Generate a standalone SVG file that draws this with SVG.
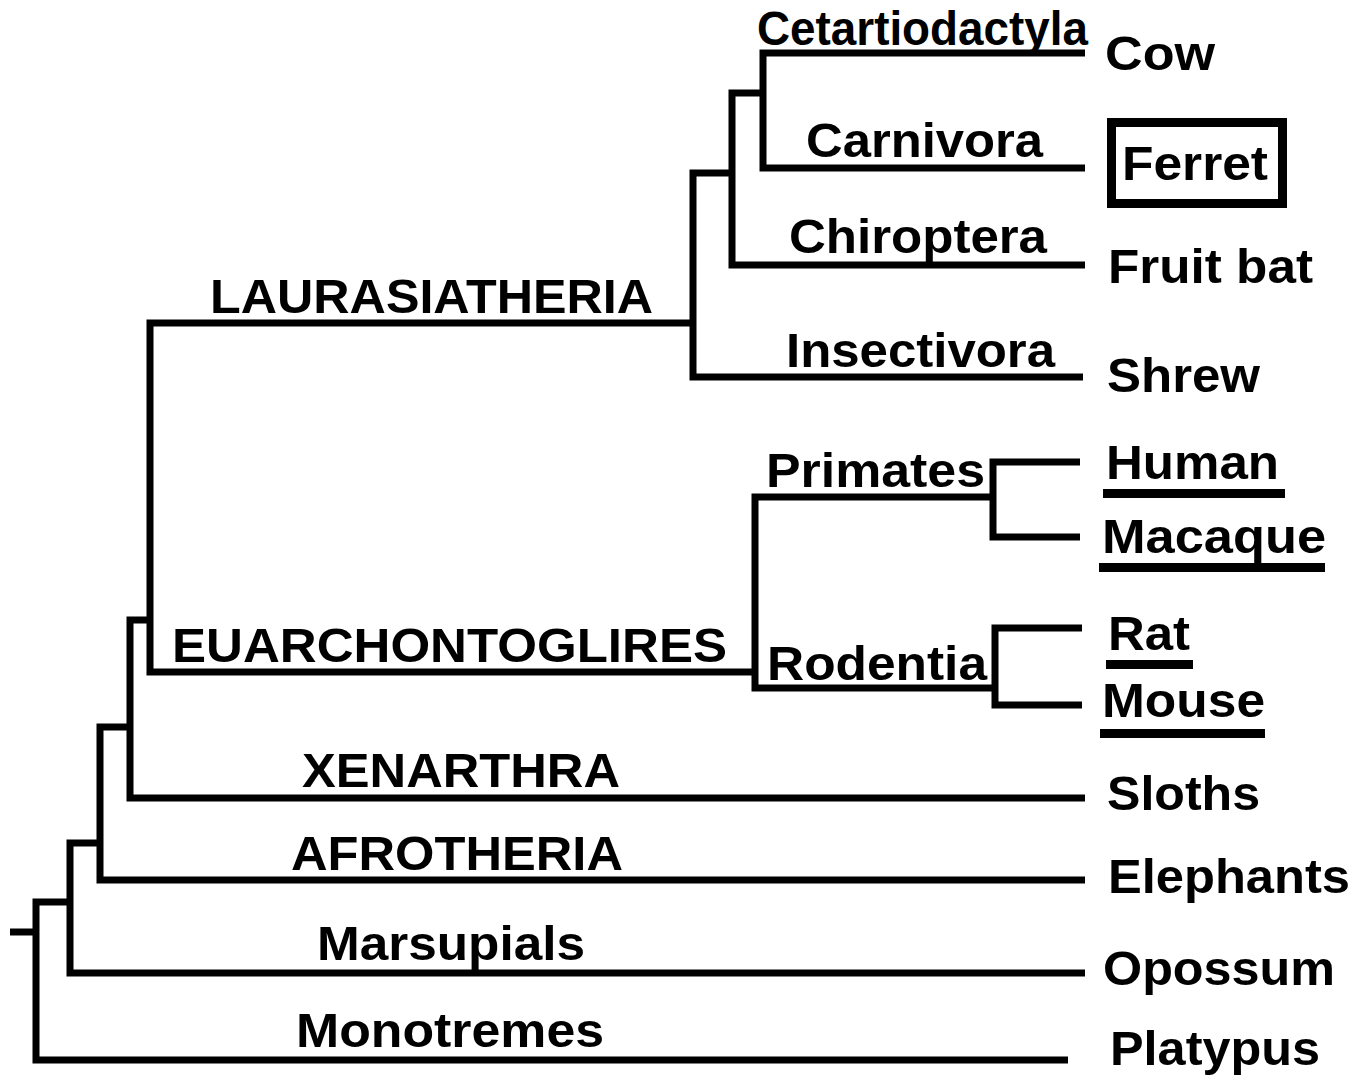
<svg xmlns="http://www.w3.org/2000/svg" width="1368" height="1079" viewBox="0 0 1368 1079">
<style>
.t{font-family:"Liberation Sans",Arial,sans-serif;font-weight:bold;font-size:48px;fill:#000}
.br{fill:none;stroke:#000;stroke-width:7;stroke-linejoin:miter;stroke-linecap:butt}
.ul{fill:#000}
</style>
<rect width="1368" height="1079" fill="#fff"/>
<g id="connectors">
<path class="br" d="M1085 53 H763 V168 H1085"/>
<path class="br" d="M763 93 H732 V265 H1085"/>
<path class="br" d="M732 173 H693 V377 H1083"/>
<path class="br" d="M693 323 H150 V672 H755"/>
<path class="br" d="M993 497 H755 V688 H995"/>
<path class="br" d="M1080 462 H993 V537 H1080"/>
<path class="br" d="M1082 628 H995 V705 H1082"/>
<path class="br" d="M150 620 H130 V798 H1085"/>
<path class="br" d="M130 727 H100 V880 H1085"/>
<path class="br" d="M100 843 H70 V973 H1085"/>
<path class="br" d="M70 902 H36 V1060 H1068"/>
<path class="br" d="M10 932 H36"/>
</g>
<g id="clade-cetartiodactyla"><text class="t" x="757" y="45" textLength="331" lengthAdjust="spacingAndGlyphs">Cetartiodactyla</text></g>
<g id="clade-carnivora"><text class="t" x="806" y="157" textLength="237" lengthAdjust="spacingAndGlyphs">Carnivora</text></g>
<g id="clade-chiroptera"><text class="t" x="789" y="253" textLength="258" lengthAdjust="spacingAndGlyphs">Chiroptera</text></g>
<g id="clade-insectivora"><text class="t" x="786" y="367" textLength="269" lengthAdjust="spacingAndGlyphs">Insectivora</text></g>
<g id="clade-laurasiatheria"><text class="t" x="210" y="313" textLength="443" lengthAdjust="spacingAndGlyphs">LAURASIATHERIA</text></g>
<g id="clade-euarchontoglires"><text class="t" x="172" y="662" textLength="555" lengthAdjust="spacingAndGlyphs">EUARCHONTOGLIRES</text></g>
<g id="clade-primates"><text class="t" x="766" y="487" textLength="219" lengthAdjust="spacingAndGlyphs">Primates</text></g>
<g id="clade-rodentia"><text class="t" x="767" y="680" textLength="220" lengthAdjust="spacingAndGlyphs">Rodentia</text></g>
<g id="clade-xenarthra"><text class="t" x="302" y="787" textLength="318" lengthAdjust="spacingAndGlyphs">XENARTHRA</text></g>
<g id="clade-afrotheria"><text class="t" x="291" y="870" textLength="332" lengthAdjust="spacingAndGlyphs">AFROTHERIA</text></g>
<g id="clade-marsupials"><text class="t" x="317" y="960" textLength="268" lengthAdjust="spacingAndGlyphs">Marsupials</text></g>
<g id="clade-monotremes"><text class="t" x="296" y="1047" textLength="308" lengthAdjust="spacingAndGlyphs">Monotremes</text></g>
<g id="leaf-cow"><text class="t" x="1105" y="70" textLength="110" lengthAdjust="spacingAndGlyphs">Cow</text></g>
<g id="leaf-ferret"><rect x="1111.5" y="122.5" width="171" height="81" fill="none" stroke="#000" stroke-width="9"/><text class="t" x="1122" y="180" textLength="146" lengthAdjust="spacingAndGlyphs">Ferret</text></g>
<g id="leaf-fruitbat"><text class="t" x="1108" y="283" textLength="205" lengthAdjust="spacingAndGlyphs">Fruit bat</text></g>
<g id="leaf-shrew"><text class="t" x="1107" y="392" textLength="153" lengthAdjust="spacingAndGlyphs">Shrew</text></g>
<g id="leaf-human"><text class="t" x="1106" y="479" textLength="173" lengthAdjust="spacingAndGlyphs">Human</text><rect class="ul" x="1103" y="489" width="182" height="9"/></g>
<g id="leaf-macaque"><text class="t" x="1102" y="553" textLength="224" lengthAdjust="spacingAndGlyphs">Macaque</text><rect class="ul" x="1099" y="563" width="226" height="9"/></g>
<g id="leaf-rat"><text class="t" x="1108" y="650" textLength="82" lengthAdjust="spacingAndGlyphs">Rat</text><rect class="ul" x="1106" y="660" width="87" height="9"/></g>
<g id="leaf-mouse"><text class="t" x="1102" y="717" textLength="163" lengthAdjust="spacingAndGlyphs">Mouse</text><rect class="ul" x="1100" y="729" width="165" height="9"/></g>
<g id="leaf-sloths"><text class="t" x="1107" y="810" textLength="153" lengthAdjust="spacingAndGlyphs">Sloths</text></g>
<g id="leaf-elephants"><text class="t" x="1108" y="893" textLength="242" lengthAdjust="spacingAndGlyphs">Elephants</text></g>
<g id="leaf-opossum"><text class="t" x="1103" y="985" textLength="232" lengthAdjust="spacingAndGlyphs">Opossum</text></g>
<g id="leaf-platypus"><text class="t" x="1110" y="1065" textLength="210" lengthAdjust="spacingAndGlyphs">Platypus</text></g>
</svg>
